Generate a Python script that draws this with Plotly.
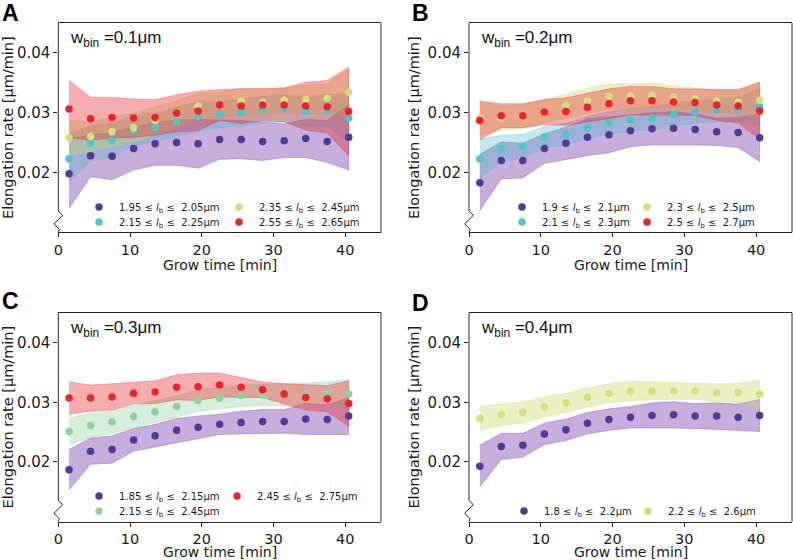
import plotly.graph_objects as go

# ---------------- data ----------------
TIME = [1.5, 4.5, 7.5, 10.5, 13.5, 16.5, 19.5, 22.5, 25.5, 28.5, 31.5, 34.5, 37.5, 40.5]

X_TICKS = [0, 10, 20, 30, 40]
Y_TICKS = [0.02, 0.03, 0.04]
X_RANGE = [0, 45]
Y_RANGE = [0.010, 0.045]

PANEL_LETTERS = ["A", "B", "C", "D"]
BIN_WIDTHS = ["0.1", "0.2", "0.3", "0.4"]
X_TITLE = "Grow time [min]"
Y_TITLE = "Elongation rate [μm/min]"

# Panel A (w_bin = 0.1 um)
A_LABELS = ["1.95 ≤ <i>l</i><sub>b</sub> ≤  2.05μm", "2.15 ≤ <i>l</i><sub>b</sub> ≤  2.25μm",
            "2.35 ≤ <i>l</i><sub>b</sub> ≤  2.45μm", "2.55 ≤ <i>l</i><sub>b</sub> ≤  2.65μm"]
A_PURPLE = [0.0198, 0.0228, 0.0227, 0.0240, 0.0248, 0.0250, 0.0248, 0.0255, 0.0255, 0.0252, 0.0253, 0.0257, 0.0252, 0.0259]
A_PURPLE_ERR = [0.0058, 0.0035, 0.0039, 0.0036, 0.0036, 0.0038, 0.0041, 0.0033, 0.0032, 0.0032, 0.0028, 0.0032, 0.0035, 0.0055]
A_CYAN = [0.0223, 0.0249, 0.0254, 0.0270, 0.0275, 0.0285, 0.0294, 0.0297, 0.0300, 0.0305, 0.0307, 0.0302, 0.0304, 0.0291]
A_CYAN_ERR = [0.0040, 0.0030, 0.0028, 0.0025, 0.0024, 0.0024, 0.0025, 0.0022, 0.0022, 0.0022, 0.0023, 0.0025, 0.0027, 0.0040]
A_YELLOW = [0.0258, 0.0260, 0.0268, 0.0275, 0.0287, 0.0298, 0.0311, 0.0312, 0.0319, 0.0317, 0.0321, 0.0322, 0.0324, 0.0334]
A_YELLOW_ERR = [0.0030, 0.0025, 0.0025, 0.0024, 0.0023, 0.0022, 0.0022, 0.0022, 0.0022, 0.0022, 0.0022, 0.0024, 0.0025, 0.0040]
A_RED = [0.0306, 0.0290, 0.0292, 0.0291, 0.0292, 0.0299, 0.0303, 0.0313, 0.0311, 0.0313, 0.0313, 0.0311, 0.0310, 0.0302]
A_RED_ERR = [0.0048, 0.0036, 0.0034, 0.0032, 0.0030, 0.0031, 0.0033, 0.0026, 0.0029, 0.0027, 0.0028, 0.0040, 0.0044, 0.0074]

# Panel B (w_bin = 0.2 um)
B_LABELS = ["1.9 ≤ <i>l</i><sub>b</sub> ≤  2.1μm", "2.1 ≤ <i>l</i><sub>b</sub> ≤  2.3μm",
            "2.3 ≤ <i>l</i><sub>b</sub> ≤  2.5μm", "2.5 ≤ <i>l</i><sub>b</sub> ≤  2.7μm"]
B_PURPLE = [0.0183, 0.0220, 0.0220, 0.0240, 0.0249, 0.0259, 0.0263, 0.0270, 0.0273, 0.0274, 0.0272, 0.0268, 0.0267, 0.0258]
B_PURPLE_ERR = [0.0047, 0.0031, 0.0029, 0.0025, 0.0027, 0.0031, 0.0030, 0.0027, 0.0027, 0.0028, 0.0026, 0.0023, 0.0025, 0.0040]
B_CYAN = [0.0223, 0.0240, 0.0244, 0.0259, 0.0264, 0.0275, 0.0283, 0.0288, 0.0291, 0.0297, 0.0301, 0.0304, 0.0305, 0.0310]
B_CYAN_ERR = [0.0033, 0.0022, 0.0020, 0.0018, 0.0018, 0.0019, 0.0019, 0.0019, 0.0019, 0.0019, 0.0019, 0.0019, 0.0020, 0.0030]
B_YELLOW = [0.0291, 0.0291, 0.0294, 0.0302, 0.0311, 0.0320, 0.0327, 0.0328, 0.0329, 0.0326, 0.0323, 0.0319, 0.0318, 0.0321]
B_YELLOW_ERR = [0.0030, 0.0020, 0.0020, 0.0020, 0.0020, 0.0021, 0.0021, 0.0021, 0.0021, 0.0019, 0.0018, 0.0019, 0.0020, 0.0030]
B_RED = [0.0287, 0.0295, 0.0295, 0.0301, 0.0302, 0.0309, 0.0315, 0.0320, 0.0320, 0.0318, 0.0317, 0.0313, 0.0311, 0.0303]
B_RED_ERR = [0.0032, 0.0020, 0.0020, 0.0021, 0.0023, 0.0024, 0.0025, 0.0024, 0.0024, 0.0022, 0.0022, 0.0026, 0.0028, 0.0048]

# Panel C (w_bin = 0.3 um)
C_LABELS = ["1.85 ≤ <i>l</i><sub>b</sub> ≤  2.15μm", "2.15 ≤ <i>l</i><sub>b</sub> ≤  2.45μm",
            "2.45 ≤ <i>l</i><sub>b</sub> ≤  2.75μm"]
C_PURPLE = [0.0187, 0.0218, 0.0221, 0.0237, 0.0244, 0.0253, 0.0258, 0.0263, 0.0266, 0.0268, 0.0268, 0.0272, 0.0271, 0.0277]
C_PURPLE_ERR = [0.0034, 0.0022, 0.0023, 0.0019, 0.0019, 0.0020, 0.0019, 0.0017, 0.0019, 0.0020, 0.0020, 0.0026, 0.0025, 0.0031]
C_GREEN = [0.0251, 0.0261, 0.0267, 0.0276, 0.0284, 0.0293, 0.0303, 0.0307, 0.0311, 0.0312, 0.0313, 0.0313, 0.0314, 0.0314]
C_GREEN_ERR = [0.0023, 0.0020, 0.0019, 0.0018, 0.0018, 0.0018, 0.0018, 0.0018, 0.0018, 0.0018, 0.0018, 0.0019, 0.0020, 0.0024]
C_RED = [0.0307, 0.0307, 0.0309, 0.0315, 0.0317, 0.0325, 0.0326, 0.0329, 0.0325, 0.0321, 0.0314, 0.0308, 0.0306, 0.0298]
C_RED_ERR = [0.0027, 0.0022, 0.0022, 0.0018, 0.0019, 0.0021, 0.0023, 0.0020, 0.0017, 0.0013, 0.0017, 0.0021, 0.0022, 0.0038]

# Panel D (w_bin = 0.4 um)
D_LABELS = ["1.8 ≤ <i>l</i><sub>b</sub> ≤  2.2μm", "2.2 ≤ <i>l</i><sub>b</sub> ≤  2.6μm"]
D_PURPLE = [0.0193, 0.0226, 0.0228, 0.0247, 0.0254, 0.0265, 0.0271, 0.0275, 0.0278, 0.0279, 0.0277, 0.0277, 0.0275, 0.0278]
D_PURPLE_ERR = [0.0035, 0.0022, 0.0020, 0.0018, 0.0018, 0.0018, 0.0018, 0.0018, 0.0021, 0.0022, 0.0021, 0.0022, 0.0022, 0.0027]
D_YELLOW = [0.0273, 0.0279, 0.0283, 0.0292, 0.0299, 0.0308, 0.0315, 0.0319, 0.0319, 0.0319, 0.0319, 0.0316, 0.0316, 0.0314]
D_YELLOW_ERR = [0.0020, 0.0018, 0.0018, 0.0017, 0.0016, 0.0016, 0.0016, 0.0016, 0.0015, 0.0014, 0.0014, 0.0015, 0.0016, 0.0023]

# ---------------- styles ----------------
W, H = 793, 560
COL = {
    "purple": ("#4f3a96", "rgba(120,60,170,0.42)"),
    "cyan": ("#52c3c9", "rgba(80,185,205,0.35)"),
    "yellow": ("#d3df7a", "rgba(200,215,100,0.38)"),
    "red": ("#e8262a", "rgba(228,40,45,0.38)"),
    "green": ("#8fd19e", "rgba(140,205,155,0.35)"),
}

# pixel geometry of the panels: (left, right, top, bottom)
PANEL_PX = [(58.3, 381.0, 23.0, 232.3), (469.0, 792.0, 23.0, 232.3),
            (58.3, 381.0, 312.7, 521.7), (469.0, 792.0, 312.7, 521.7)]
XTITLE_Y_PX = [265, 265, 552, 552]
LETTER_PX = [(0, -2), (410, -2), (0, 286), (410, 288)]

# legend marker centre positions (pixels) per series
LEG_PX = [
    [(99, 207), (99, 222), (239, 207), (239, 222)],
    [(522, 207), (522, 222), (647, 207), (647, 222)],
    [(99, 496), (99, 511), (237, 496)],
    [(524, 511), (648, 511)],
]

PANELS = [
    [("purple", A_PURPLE, A_PURPLE_ERR, A_LABELS[0]), ("cyan", A_CYAN, A_CYAN_ERR, A_LABELS[1]),
     ("yellow", A_YELLOW, A_YELLOW_ERR, A_LABELS[2]), ("red", A_RED, A_RED_ERR, A_LABELS[3])],
    [("purple", B_PURPLE, B_PURPLE_ERR, B_LABELS[0]), ("cyan", B_CYAN, B_CYAN_ERR, B_LABELS[1]),
     ("yellow", B_YELLOW, B_YELLOW_ERR, B_LABELS[2]), ("red", B_RED, B_RED_ERR, B_LABELS[3])],
    [("purple", C_PURPLE, C_PURPLE_ERR, C_LABELS[0]), ("green", C_GREEN, C_GREEN_ERR, C_LABELS[1]),
     ("red", C_RED, C_RED_ERR, C_LABELS[2])],
    [("purple", D_PURPLE, D_PURPLE_ERR, D_LABELS[0]), ("yellow", D_YELLOW, D_YELLOW_ERR, D_LABELS[1])],
]

FONT = "DejaVu Sans"
AXC = "#262626"

fig = go.Figure()
layout = dict(width=W, height=H, margin=dict(l=0, r=0, t=0, b=0, autoexpand=False),
              template="none",
              paper_bgcolor="white", plot_bgcolor="white", showlegend=True,
              font=dict(family=FONT, color="#1a1a1a"))
shapes, annotations = [], []
leg_idx = 0

for p, series in enumerate(PANELS):
    sfx = "" if p == 0 else str(p + 1)
    xref, yref = "x" + sfx, "y" + sfx
    l, r, t, b = PANEL_PX[p]
    pw, ph = r - l, b - t
    layout["xaxis" + sfx] = dict(
        domain=[l / W, r / W], range=X_RANGE, anchor=yref, tickvals=X_TICKS,
        automargin=False,
        showline=True, mirror=True, linecolor=AXC, linewidth=1, ticks="outside",
        ticklen=4, tickcolor=AXC, showgrid=False, zeroline=False,
        tickfont=dict(size=14.5, family=FONT, color="#1a1a1a"))
    layout["yaxis" + sfx] = dict(
        domain=[1 - b / H, 1 - t / H], range=Y_RANGE, anchor=xref, tickvals=Y_TICKS,
        automargin=False,
        tickformat=".2f", showline=False, ticks="outside", ticklen=4, tickcolor=AXC,
        showgrid=False, zeroline=False,
        tickfont=dict(size=15, family=FONT, color="#1a1a1a"),
        title=dict(text=Y_TITLE, font=dict(size=14.5, family=FONT), standoff=4))
    # fills first
    for name, mean, err, label in series:
        upper = [m + e for m, e in zip(mean, err)]
        lower = [m - e for m, e in zip(mean, err)]
        fig.add_trace(go.Scatter(
            x=TIME + TIME[::-1], y=upper + lower[::-1], fill="toself",
            fillcolor=COL[name][1], line=dict(color=COL[name][1], width=0.8),
            mode="lines", showlegend=False, hoverinfo="skip", xaxis=xref, yaxis=yref))
    # then markers, each with its own positioned legend
    for k, (name, mean, err, label) in enumerate(series):
        leg_idx += 1
        lname = "legend" if leg_idx == 1 else "legend" + str(leg_idx)
        fig.add_trace(go.Scatter(
            x=TIME, y=mean, mode="markers", name=label,
            marker=dict(color=COL[name][0], size=7.5, line=dict(width=0)),
            xaxis=xref, yaxis=yref, legend=lname))
        mx, my = LEG_PX[p][k]
        layout[lname] = dict(x=(mx - 20) / W, y=1 - (my - 14.5) / H, xanchor="left",
                             yanchor="top", bgcolor="rgba(0,0,0,0)", borderwidth=0,
                             font=dict(size=10, family=FONT, color="#1a1a1a"))
    # frame: right spine and broken left spine
    shapes.append(dict(type="line", xref=xref + " domain", yref=yref + " domain",
                       x0=1, x1=1, y0=0, y1=1, line=dict(color=AXC, width=1)))
    bx = lambda px: px / pw
    by = lambda py: py / ph
    path = (f"M 0,1 L 0,{by(21):.4f} L {bx(4.4):.4f},{by(17):.4f} "
            f"L {bx(-4.3):.4f},{by(8.5):.4f} L {bx(1):.4f},{by(3):.4f} L 0,0")
    shapes.append(dict(type="path", xref=xref + " domain", yref=yref + " domain",
                       path=path, line=dict(color=AXC, width=1)))
    # x-axis title
    annotations.append(dict(
        text=X_TITLE, xref=xref + " domain", yref=yref + " domain", x=0.5,
        y=-(XTITLE_Y_PX[p] - b) / ph, xanchor="center", yanchor="middle", showarrow=False,
        font=dict(family=FONT, size=14, color="#1a1a1a")))
    # w_bin text
    annotations.append(dict(
        text=f"w<sub>bin</sub> =" + BIN_WIDTHS[p] + "μm", xref=xref + " domain",
        yref=yref + " domain", x=(68 - 58.3) / pw, y=1 - 16 / ph, xanchor="left",
        yanchor="middle", showarrow=False,
        font=dict(family="Liberation Sans, Arial", size=17, color="#111")))
    # panel letter
    lx, ly = LETTER_PX[p]
    annotations.append(dict(
        text="<b>" + PANEL_LETTERS[p] + "</b>", xref="paper", yref="paper",
        x=lx / W, y=1 - ly / H, xanchor="left", yanchor="top", showarrow=False,
        font=dict(family="Liberation Sans, Arial", size=23, color="#000")))

layout["shapes"] = shapes
layout["annotations"] = annotations
fig.update_layout(**layout)
fig.write_html("out.html", config={"displayModeBar": False},
               post_script="document.body.style.margin='0';document.body.style.overflow='hidden';")
